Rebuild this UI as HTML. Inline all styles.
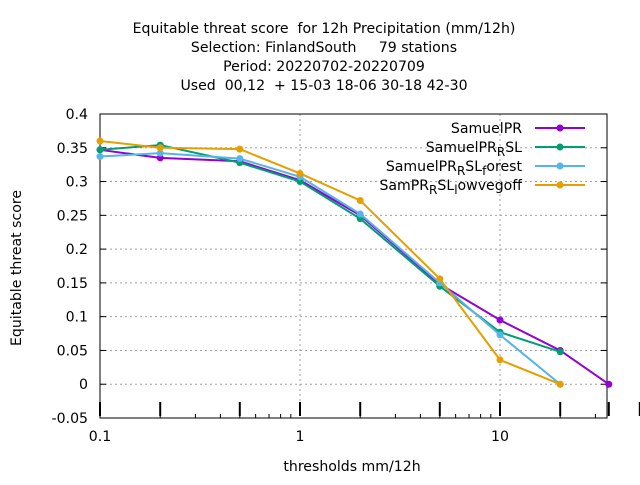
<!DOCTYPE html>
<html><head><meta charset="utf-8"><style>
body{margin:0;background:#fff}
svg{font-family:"DejaVu Sans","Liberation Sans",sans-serif}
</style></head><body>
<svg id="c" width="640" height="480" viewBox="0 0 640 480" xmlns="http://www.w3.org/2000/svg">
<g font-size="14.1" text-anchor="middle" fill="#000">
<text x="324" y="33" xml:space="preserve">Equitable threat score  for 12h Precipitation (mm/12h)</text>
<text x="324" y="52" xml:space="preserve">Selection: FinlandSouth     79 stations</text>
<text x="324" y="71">Period: 20220702-20220709</text>
<text x="324" y="90" xml:space="preserve">Used  00,12  + 15-03 18-06 30-18 42-30</text>
</g>
<g id="grid"></g>
<g id="axes"></g>
<g id="series"></g>
<g id="legend"></g>
<text x="21" y="268" font-size="14.1" text-anchor="middle" transform="rotate(-90 21 268)">Equitable threat score</text>
<text x="352" y="471" font-size="14.1" text-anchor="middle">thresholds mm/12h</text>
</svg>
<script>
const thresholds=[0.1,0.2,0.5,1,2,5,10,20,35];
const samuelPR=[0.347,0.335,0.330,0.302,0.250,0.148,0.095,0.050,0.0];
const samuelPR_RSL=[0.347,0.354,0.328,0.300,0.245,0.145,0.077,0.048];
const samuelPR_RSL_forest=[0.337,0.342,0.334,0.307,0.252,0.150,0.073,0.0];
const samPR_RSL_lowvegoff=[0.360,0.350,0.348,0.312,0.272,0.156,0.036,0.0];
const yTicks=[-0.05,0,0.05,0.1,0.15,0.2,0.25,0.3,0.35,0.4];
const yTickLabels=["-0.05","0","0.05","0.1","0.15","0.2","0.25","0.3","0.35","0.4"];
const xTicks=[0.1,1,10];
const xTickLabels=["0.1","1","10"];
const bigTicks=[0.1,0.2,0.5,1,2,5,10,20,35,50];
const seriesNames=["SamuelPR","SamuelPR_RSL","SamuelPR_RSL_forest","SamPR_RSL_lowvegoff"];
const seriesColors=["#9400d3","#009e73","#56b4e9","#e69f00"];
const seriesData=[samuelPR,samuelPR_RSL,samuelPR_RSL_forest,samPR_RSL_lowvegoff];
const L=100,R=607,T=114,B=418;
const X=v=>L+200*Math.log10(v/0.1);
const Y=v=>B-(v+0.05)*(B-T)/0.45;
const NS="http://www.w3.org/2000/svg";
function mk(p,t,a){const e=document.createElementNS(NS,t);for(const k in a)e.setAttribute(k,a[k]);p.appendChild(e);return e;}
const grid=document.getElementById('grid'),axes=document.getElementById('axes'),ser=document.getElementById('series'),leg=document.getElementById('legend');
yTicks.forEach((v,i)=>{
 const y=Y(v);
 if(i>0&&i<yTicks.length-1){const g=mk(grid,'line',{x1:L,x2:R,y1:y,y2:y,stroke:'#a0a0a0','stroke-dasharray':'2,3','stroke-width':1});
 
 }
 const t=mk(axes,'text',{x:L-12,y:y+5,'font-size':14.1,'text-anchor':'end'});t.textContent=yTickLabels[i];
 
 
 mk(axes,'line',{x1:L,x2:L+6,y1:y,y2:y,stroke:'#000'});
 mk(axes,'line',{x1:R,x2:R-6,y1:y,y2:y,stroke:'#000'});
});
xTicks.forEach((v,i)=>{
 const x=X(v);
 if(i>0){const g=mk(grid,'line',{x1:x,x2:x,y1:T,y2:B,stroke:'#a0a0a0','stroke-dasharray':'2,3'});
 
 }
 const t=mk(axes,'text',{x:x,y:B+23,'font-size':14.1,'text-anchor':'middle'});t.textContent=xTickLabels[i];
 
 
});
for(let d=0.1;d<100;d*=10)for(let k=2;k<10;k++){const x=X(d*k);if(x<R)mk(axes,'line',{x1:x,x2:x,y1:B,y2:B-4,stroke:'#000'});}
bigTicks.forEach(v=>{const x=X(v);mk(axes,'line',{x1:x,x2:x,y1:B-2,y2:B-16,stroke:'#000','stroke-width':2});});
mk(axes,'rect',{x:L,y:T,width:R-L,height:B-T,fill:'none',stroke:'#000','stroke-width':1});
seriesData.forEach((arr,s)=>{
 const g=mk(ser,'g',{});
 
 
 const pts=arr.map((v,i)=>X(thresholds[i])+','+Y(v)).join(' ');
 mk(g,'polyline',{points:pts,fill:'none',stroke:seriesColors[s],'stroke-width':2});
 arr.forEach((v,i)=>{const p=mk(g,'circle',{cx:X(thresholds[i]),cy:Y(v),r:3.5,fill:seriesColors[s]});
 
 });
});
const labels=[['SamuelPR'],['SamuelPR','R','SL'],['SamuelPR','R','SL','f','orest'],['SamPR','R','SL','l','owvegoff']];
labels.forEach((parts,s)=>{
 const y=128+19*s;
 const t=mk(leg,'text',{x:522,y:y+5,'font-size':14.1,'text-anchor':'end'});
 
 
 parts.forEach((p,j)=>{const ts=mk(t,'tspan',{});
  if(j%2==1){ts.setAttribute('font-size','12');ts.setAttribute('dy','4');}
  else if(j>0){ts.setAttribute('dy','-4');}
  ts.textContent=p;});
 mk(leg,'line',{x1:535,x2:585,y1:y,y2:y,stroke:seriesColors[s],'stroke-width':2});
 mk(leg,'circle',{cx:560,cy:y,r:3.5,fill:seriesColors[s]});
});
</script>
</body></html>
